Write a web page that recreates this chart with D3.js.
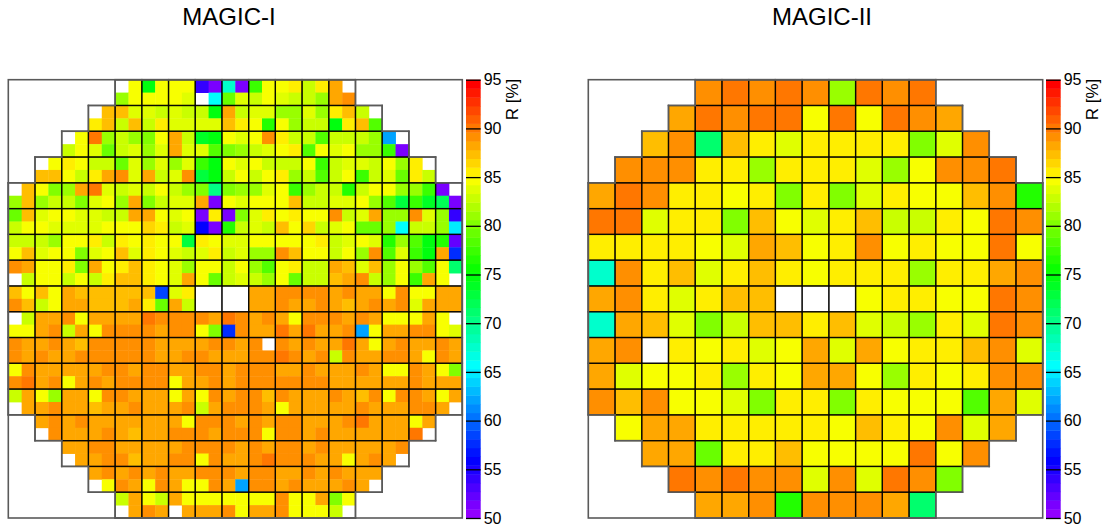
<!DOCTYPE html>
<html>
<head>
<meta charset="utf-8">
<script src="https://cdn.jsdelivr.net/npm/d3@7"></script>
<style>
  body { margin: 0; background: #fff; }
  text { font-family: "Liberation Sans", Arial, Helvetica, sans-serif; }
</style>
</head>
<body>
<script>
const _ = null;
const titles = ['MAGIC-I', 'MAGIC-II'];
const colorTicks = [50, 55, 60, 65, 70, 75, 80, 85, 90, 95];
const zLabel = 'R [%]';
// first module column used in each of the 17 module rows (shape is left/right symmetric)
const moduleRowStart = [4, 3, 2, 1, 0, 0, 0, 0, 0, 0, 0, 0, 0, 1, 2, 3, 4];

// MAGIC-I, 34x34 pixels (2x2 per module), R in %
const magic1 = [
  [_,_,_,_,_,_,_,_,_,84.6,75,84.6,84.6,84.6,54.1,51.3,67.5,51.3,77.4,84.6,84.6,85.5,82.8,85.5,88,_,_,_,_,_,_,_,_,_],
  [_,_,_,_,_,_,_,_,81,84.6,84.6,84.6,84.6,83.7,_,65.7,79.2,83.7,82.8,84.6,83.7,82.8,82.8,81,88,89,_,_,_,_,_,_,_,_],
  [_,_,_,_,_,_,_,87,87,83.7,83.7,82.8,83.7,82.8,82.8,75,88,82.8,83.7,83.7,81,81,83.7,81,85.5,87,82.8,_,_,_,_,_,_,_],
  [_,_,_,_,_,_,85.5,87,82.8,87,82.8,85.5,83.7,83.7,83.7,83.7,87,85.5,84.6,76.5,84.6,81,82.8,82.8,75,85.5,87,78.3,_,_,_,_,_,_],
  [_,_,_,_,_,84.6,90,81,82.8,81,80.1,84.6,88,82.8,73.8,75,84.6,83.7,84.6,89,85.5,82.8,82.8,78.3,82.8,82.8,82.8,81,62.1,_,_,_,_,_],
  [_,_,_,_,82.8,84.6,83.7,79.2,82.8,83.7,81,83.7,88,83.7,83.7,78.3,80.1,81,82.8,83.7,84.6,85.5,78.3,84.6,83.7,84.6,81,81,77.4,51.3,_,_,_,_],
  [_,_,_,84.6,85.5,84.6,82.8,82.8,79.2,83.7,81,83.7,81,83.7,77.4,75,84.6,83.7,84.6,82.8,82.8,82.8,84.6,77.4,82.8,83.7,83.7,82.8,84.6,81,85.5,_,_,_],
  [_,_,87,87,84.6,82.8,85.5,88,89,83.7,88,82.8,83.7,89,72.9,75,82.8,84.6,82.8,84.6,85.5,81,82.8,78.3,82.8,84.6,77.4,82.8,83.7,79.2,85.5,82.8,_,_],
  [_,87,84.6,80.1,81,88,90,83.7,82.8,83.7,82.8,84.6,82.8,81,80.1,70.2,80.1,81,81,83.7,84.6,77.4,81,82.8,82.8,76.5,82.8,84.6,84.6,81,81,77.4,51.3,_],
  [81,87,81,82.8,82.8,80.1,83.7,84.6,81,88,80.1,82.8,83.7,83.7,88,51.3,84.6,83.7,84.6,84.6,84.6,87,82.8,82.8,83.7,83.7,84.6,81,78.3,72.9,77.4,73.8,72,51.3],
  [79.2,87,83.7,84.6,84.6,83.7,83.7,82.8,82.8,88,88,84.6,83.7,84.6,51.3,85.5,51.3,80.1,83.7,85.5,84.6,85.5,84.6,84.6,89,82.8,83.7,88,81,81,89,83.7,81,54.1],
  [82.8,84.6,84.6,83.7,83.7,83.7,83.7,84.6,84.6,84.6,86.4,85.5,82.8,83.7,55.8,51.3,76.5,82.8,83.7,82.8,87,84.6,86.4,82.8,83.7,84.6,79.2,79.2,81,65.7,82.8,82.8,81,64.5],
  [82.8,82.8,82.8,81,84.6,84.6,85.5,82.8,85.5,84.6,85.5,84.6,84.6,72.9,85.5,84.6,83.7,83.7,84.6,84.6,84.6,84.6,84.6,85.5,82.8,83.7,84.6,83.7,76.5,81,78.3,75,76.5,52.2],
  [84.6,87,83.7,84.6,84.6,80.1,83.7,84.6,87,83.7,85.5,84.6,83.7,82.8,83.7,85.5,82.8,83.7,81,81,89,87,84.6,84.6,82.8,84.6,81,89,78.3,83.7,77.4,75,88,57.6],
  [89,88,84.6,84.6,85.5,80.1,88,84.6,85.5,87,85.5,84.6,83.7,81,84.6,84.6,82.8,84.6,81,78.3,84.6,85.5,82.8,82.8,88,87,83.7,87,81,84.6,81,78.3,84.6,71.2],
  [_,82.8,84.6,84.6,82.8,84.6,82.8,85.5,87,87,85.5,84.6,83.7,88,84.6,79.2,82.8,83.7,82.8,81,84.6,79.2,82.8,82.8,87,88,89,82.8,81,84.6,77.4,88,84.6,_],
  [87,84.6,87,84.6,88,87,87,87,87,87,87,58.5,83.7,85.5,_,_,_,_,88,88,89,89,89,89,88,89,88,88,84.6,89,84.6,84.6,88,88],
  [89,87,82.8,84.6,88,88,87,87,87,88,85.5,79.2,88,82.8,_,_,_,_,88,88,89,88,88,89,88,87,88,89,88,89,83.7,88,88,88],
  [_,82.8,88,88,89,84.6,88,88,88,88,90,89,89,89,89,88,90,89,88,89,88,84.6,89,89,89,88,89,88,84.6,84.6,84.6,88,84.6,_],
  [84.6,84.6,88,89,82.8,88,84.6,89,89,89,89,88,89,89,84.6,80.1,57.6,89,88,88,90,88,90,88,88,89,62.1,84.6,88,88,89,89,84.6,83.7],
  [89,88,88,89,88,87,89,89,89,89,89,88,88,88,88,89,89,88,89,_,89,88,89,88,88,90,88,84.6,88,89,88,88,89,88],
  [89,88,89,88,88,89,89,89,89,89,89,88,88,89,89,88,88,88,89,89,90,89,88,89,82.8,89,88,88,89,89,88,84.6,89,88],
  [84.6,89,88,88,88,88,88,89,89,88,89,89,88,88,89,89,88,89,89,89,88,88,89,88,88,88,89,88,84.6,84.6,89,88,84.6,80.1],
  [89,90,88,89,84.6,88,89,88,89,89,89,89,84.6,88,88,89,88,89,89,89,89,89,89,89,88,88,88,88,88,88,89,88,88,88],
  [82.8,88,84.6,81,88,88,84.6,89,89,88,88,88,84.6,88,84.6,89,88,89,89,87,89,88,88,88,89,88,87,89,84.6,89,89,88,84.6,88],
  [_,88,88,89,88,88,87,88,88,89,88,88,88,89,82.8,88,89,89,89,88,84.6,88,88,88,88,88,89,88,88,88,89,89,88,_],
  [_,_,88,89,88,89,88,88,88,88,88,88,88,84.6,89,89,89,88,89,88,89,89,88,88,88,89,90,88,88,88,84.6,88,_,_],
  [_,_,_,89,88,88,88,89,88,87,88,88,89,89,89,88,89,89,89,84.6,89,89,88,89,88,88,88,88,88,88,90,_,_,_],
  [_,_,_,_,88,88,89,89,88,88,88,88,88,89,89,89,89,88,89,88,89,89,88,89,88,88,88,88,88,89,_,_,_,_],
  [_,_,_,_,_,88,88,89,89,87,88,88,89,89,84.6,89,88,88,89,90,89,89,89,88,88,84.6,88,89,88,_,_,_,_,_],
  [_,_,_,_,_,_,88,89,88,89,88,89,88,88,89,89,89,88,89,89,88,88,89,88,89,88,88,88,_,_,_,_,_,_],
  [_,_,_,_,_,_,_,84.6,89,88,84.6,89,88,84.6,84.6,89,88,62.5,89,89,88,89,88,88,88,89,88,_,_,_,_,_,_,_],
  [_,_,_,_,_,_,_,_,82.8,88,84.6,82.8,88,84.6,84.6,84.6,84.6,84.6,84.6,84.6,89,84.6,84.6,88,80.1,84.6,_,_,_,_,_,_,_,_],
  [_,_,_,_,_,_,_,_,_,88,89,88,_,88,88,88,89,84.6,88,88,89,84.6,84.6,84.6,82.8,_,_,_,_,_,_,_,_,_]
];

// MAGIC-II, 17x17 modules, R in %
const magic2 = [
  [_,_,_,_,89,90,89,90,89,81,90,89,90,_,_,_,_],
  [_,_,_,88,90,89,90,90,84.6,90,84.6,90,89,88,_,_,_],
  [_,_,87,89,71.2,87,85.5,83.7,85.5,85.5,85.5,85.5,80.1,83.7,89,_,_],
  [_,89,89,89,85.5,85.5,81,85.5,85.5,85.5,83.7,81,84.6,89,89,90,_],
  [88,90,89,85.5,85.5,84.6,85.5,80.1,85.5,80.1,83.7,85.5,84.6,84.6,87,89,76.5],
  [90,90,83.7,85.5,85.5,80.1,87,84.6,83.7,85.5,87,82.8,82.8,85.5,84.6,90,89],
  [85.5,85.5,85.5,85.5,84.6,83.7,88,87,84.6,85.5,89,84.6,85.5,84.6,84.6,90,84.6],
  [67.5,89,85.5,87,83.7,85.5,87,85.5,84.6,85.5,85.5,85.5,81,85.5,85.5,88,89],
  [88,89,85.5,83.7,85.5,87,87,_,_,_,84.6,85.5,85.5,84.6,84.6,90,89],
  [67.5,88,87,83.7,80.1,82.8,87,87,85.5,87,83.7,82.8,81,85.5,83.7,90,89],
  [88,89,_,85.5,84.6,85.5,83.7,84.6,88,83.7,88,84.6,85.5,85.5,87,89,83.7],
  [88,83.7,84.6,84.6,85.5,81,85.5,84.6,88,88,84.6,81,85.5,84.6,85.5,89,89],
  [89,87,89,84.6,84.6,83.7,80.1,85.5,85.5,80.1,85.5,84.6,84.6,84.6,78.3,88,83.7],
  [_,84.6,88,88,85.5,85.5,85.5,85.5,85.5,84.6,87,85.5,84.6,89,83.7,88,_],
  [_,_,88,88,79.2,85.5,85.5,87,84.6,84.6,84.6,84.6,90,84.6,89,_,_],
  [_,_,_,90,89,90,89,89,83.7,89,83.7,90,89,80.1,_,_,_],
  [_,_,_,_,88,88,89,76.5,89,89,89,88,71.2,_,_,_,_]
];

const width = 1108, height = 529;
const plotTop = 79.7, plotBottom = 518;
const barWidth = 14.7;
const fontFamily = '"Liberation Sans", Arial, Helvetica, sans-serif';

const svg = d3.select('body').append('svg')
  .attr('width', width).attr('height', height);

// ROOT "pretty" palette: 50 hues violet -> red over 50..95
const z = d3.scaleQuantize()
  .domain([50, 95])
  .range(d3.range(50).map(i => d3.hsl(280 - (i + 1) * 5.6, 1, 0.5).formatHex()));

const panels = [
  {title: titles[0], data: magic1, x0: 8.3, x1: 462.3, bar: 466, titleX: 229},
  {title: titles[1], data: magic2, x0: 588.3, x1: 1042.7, bar: 1046, titleX: 822}
];

const inside = (r, c) => r >= 0 && r < 17 && c >= moduleRowStart[r] && c <= 16 - moduleRowStart[r];

panels.forEach(p => {
  const n = p.data.length;
  const x = d3.scaleLinear().domain([0, n]).range([p.x0, p.x1]);
  const y = d3.scaleLinear().domain([0, n]).range([plotTop, plotBottom]);
  const mx = d3.scaleLinear().domain([0, 17]).range([p.x0, p.x1]);
  const my = d3.scaleLinear().domain([0, 17]).range([plotTop, plotBottom]);
  const g = svg.append('g');

  //cells
  const cells = [];
  p.data.forEach((row, r) => row.forEach((v, c) => {
    if (v !== null) cells.push({r: r, c: c, v: v});
  }));
  g.selectAll('rect.cell').data(cells).join('rect')
    .attr('class', 'cell')
    .attr('x', d => x(d.c))
    .attr('y', d => y(d.r))
    .attr('width', x(1) - x(0) + 0.4)
    .attr('height', y(1) - y(0) + 0.4)
    .attr('fill', d => z(d.v));

  //module grid
  const mods = [];
  moduleRowStart.forEach((s, r) => {
    for (let c = s; c <= 16 - s; c++) mods.push({r: r, c: c});
  });
  g.selectAll('rect.mod').data(mods).join('rect')
    .attr('class', 'mod')
    .attr('x', d => mx(d.c))
    .attr('y', d => my(d.r))
    .attr('width', mx(1) - mx(0))
    .attr('height', my(1) - my(0))
    .attr('fill', 'none')
    .attr('stroke', '#000')
    .attr('stroke-opacity', 0.8)
    .attr('stroke-width', 1.3);

  //outer staircase outline
  const edges = [];
  mods.forEach(m => {
    if (!inside(m.r - 1, m.c)) edges.push([m.c, m.r, m.c + 1, m.r]);
    if (!inside(m.r + 1, m.c)) edges.push([m.c, m.r + 1, m.c + 1, m.r + 1]);
    if (!inside(m.r, m.c - 1)) edges.push([m.c, m.r, m.c, m.r + 1]);
    if (!inside(m.r, m.c + 1)) edges.push([m.c + 1, m.r, m.c + 1, m.r + 1]);
  });
  g.selectAll('line.edge').data(edges).join('line')
    .attr('class', 'edge')
    .attr('x1', d => mx(d[0])).attr('y1', d => my(d[1]))
    .attr('x2', d => mx(d[2])).attr('y2', d => my(d[3]))
    .attr('stroke', '#5a5a5a')
    .attr('stroke-width', 1.6)
    .attr('stroke-linecap', 'square');

  //frame
  g.append('rect')
    .attr('x', p.x0).attr('y', plotTop)
    .attr('width', p.x1 - p.x0).attr('height', plotBottom - plotTop)
    .attr('fill', 'none')
    .attr('stroke', '#5a5a5a')
    .attr('stroke-width', 1.6);

  //colour bar
  const zy = d3.scaleLinear().domain([50, 95]).range([plotBottom, plotTop]);
  const bands = z.range().map(col => ({col: col, ext: z.invertExtent(col)}));
  g.selectAll('rect.band').data(bands).join('rect')
    .attr('class', 'band')
    .attr('x', p.bar)
    .attr('y', d => zy(d.ext[1]))
    .attr('width', barWidth)
    .attr('height', d => zy(d.ext[0]) - zy(d.ext[1]) + 0.4)
    .attr('fill', d => d.col);

  const axis = d3.axisRight(zy)
    .tickValues(colorTicks)
    .tickSizeInner(-barWidth)
    .tickSizeOuter(0)
    .tickPadding(3);
  g.append('g')
    .attr('transform', 'translate(' + (p.bar + barWidth) + ',0)')
    .call(axis)
    .attr('font-size', 16)
    .attr('font-family', fontFamily)
    .call(a => a.select('.domain').remove())
    .call(a => a.selectAll('.tick line').attr('stroke-width', 1.3));

  g.append('text')
    .attr('transform', 'translate(' + (p.bar + 52) + ',' + (plotTop - 1) + ') rotate(-90)')
    .attr('text-anchor', 'end')
    .attr('font-size', 17)
    .text(zLabel);

  //title
  g.append('text')
    .attr('x', p.titleX)
    .attr('y', 25)
    .attr('text-anchor', 'middle')
    .attr('font-size', 24)
    .text(p.title);
});
</script>
</body>
</html>
